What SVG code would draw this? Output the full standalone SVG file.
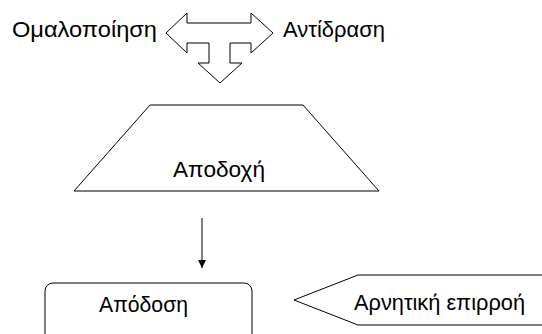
<svg xmlns="http://www.w3.org/2000/svg" width="542" height="334" viewBox="0 0 542 334">
<style>
.s{fill:#fff;stroke:#000;stroke-width:1}
.t{font-family:"Liberation Sans",Arial,sans-serif;font-size:22px;fill:#000}
</style>
<defs>
<marker id="ah" viewBox="0 0 8 8" refX="8" refY="4" markerWidth="8" markerHeight="8" markerUnits="userSpaceOnUse" orient="auto">
<path d="M0,0 L8,4 L0,8 Z" fill="#000"/>
</marker>
</defs>
<rect width="542" height="334" fill="#fff"/>
<g id="omalopoiisi"><text class="t" x="12" y="37" textLength="145" lengthAdjust="spacingAndGlyphs">Ομαλοποίηση</text></g>
<g id="antidrasi"><text class="t" x="283" y="37" textLength="102" lengthAdjust="spacingAndGlyphs">Αντίδραση</text></g>
<g id="tarrow"><path class="s" d="M166,33 L187,13 L187,23 L251,23 L251,13 L273,33 L251,53 L251,43 L230,43 L230,63 L242,63 L220,83 L198,63 L209,63 L209,43 L187,43 L187,53 Z"/></g>
<g id="apodochi"><path class="s" d="M150,105 L303,105 L379,191 L74,191 Z"/><text class="t" x="173" y="177" textLength="92" lengthAdjust="spacingAndGlyphs">Αποδοχή</text></g>
<g id="connectors"><line x1="202" y1="218" x2="202" y2="268" stroke="#000" stroke-width="1" marker-end="url(#ah)"/></g>
<g id="apodosi"><rect class="s" x="45" y="283" width="207" height="70" rx="8"/><text class="t" x="99" y="312" textLength="89" lengthAdjust="spacingAndGlyphs">Απόδοση</text></g>
<g id="arnitiki"><path class="s" d="M294,300 L358,275 L560,275 L560,325 L358,325 Z"/><text class="t" x="354" y="310" textLength="171" lengthAdjust="spacingAndGlyphs">Αρνητική επιρροή</text></g>
</svg>
